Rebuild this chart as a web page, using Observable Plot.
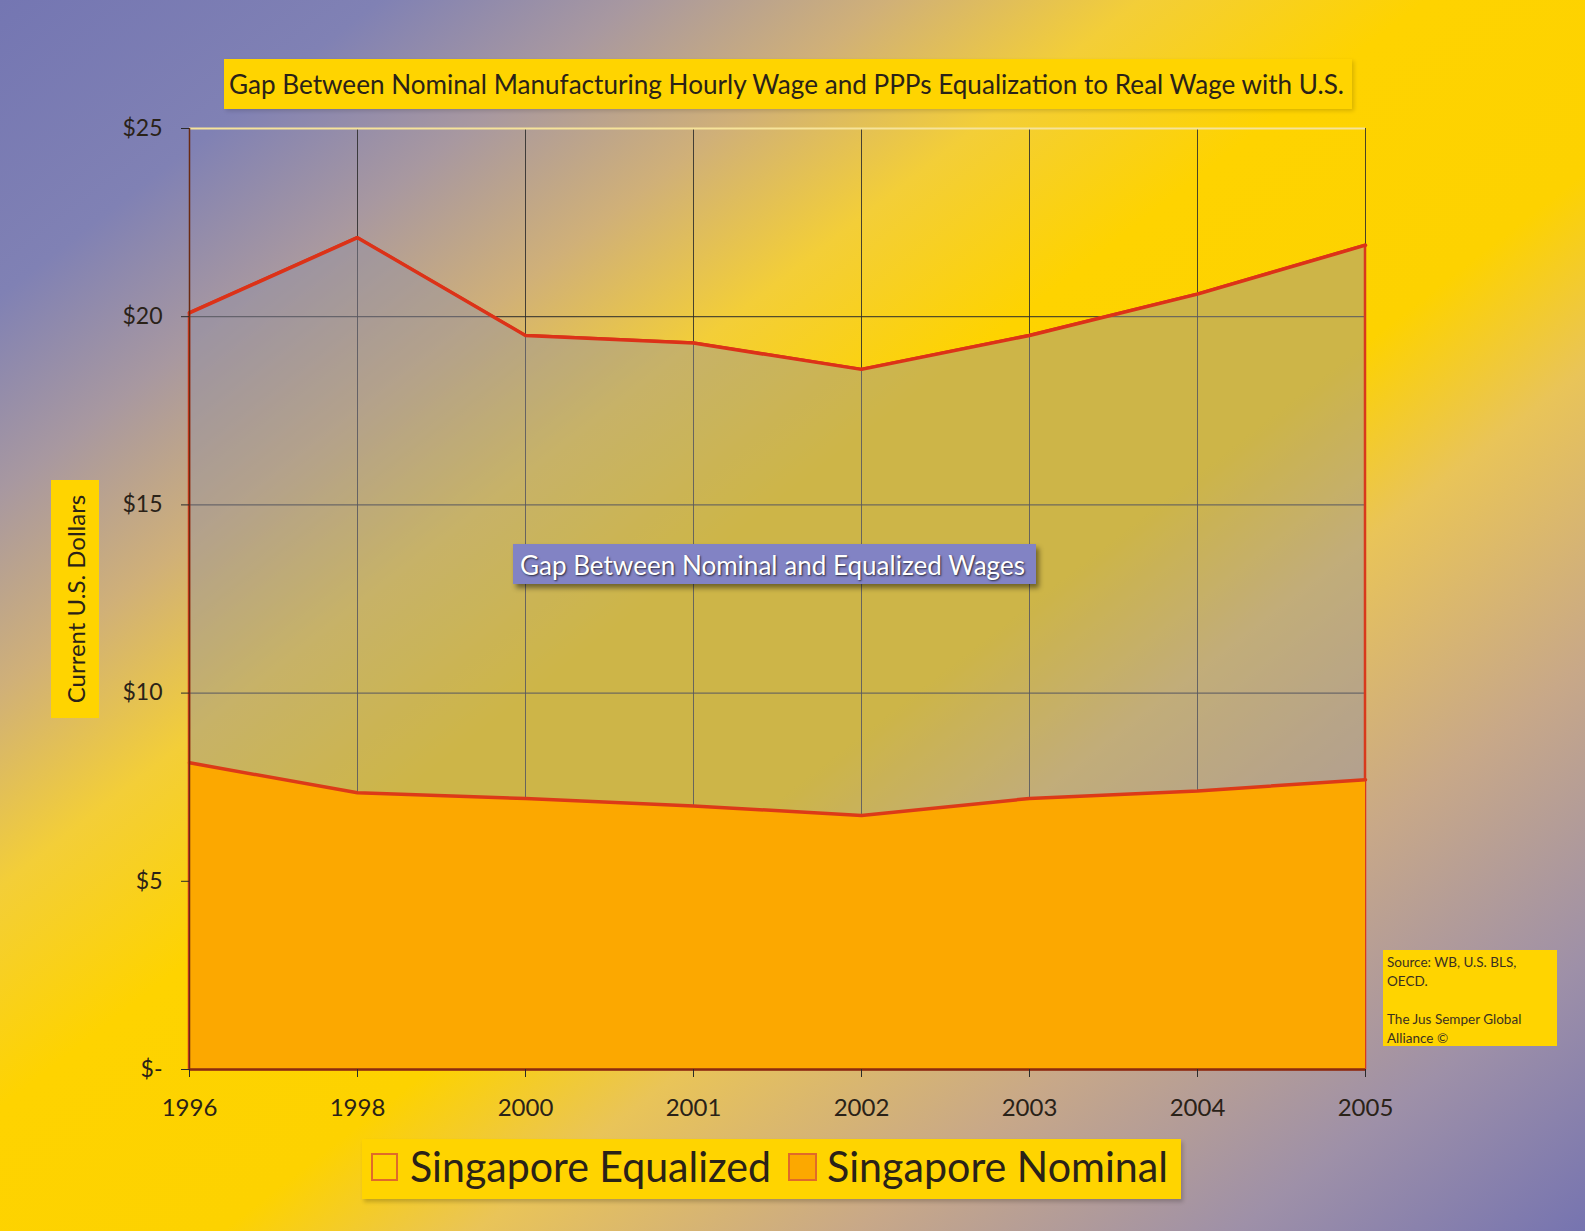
<!DOCTYPE html>
<html>
<head>
<meta charset="utf-8">
<script src="https://cdn.jsdelivr.net/npm/d3@7"></script>
<script src="https://cdn.jsdelivr.net/npm/@observablehq/plot@0.6"></script>
<style>
  html, body { margin: 0; padding: 0; }
  #page {
    position: relative; width: 1585px; height: 1231px; overflow: hidden;
    background: linear-gradient(to bottom right, #7476b2 0%, #8081b4 12%, #a898a0 20%, #d0b078 28%, #f3ce38 36%, #fed300 45%, #fdd200 57%, #e9c458 65%, #c8a888 77%, #9e90a8 89%, #7674b0 100%);
    font-family: Lato, "Open Sans", sans-serif;
  }
  .box { position: absolute; background: #ffd400; box-sizing: border-box; }
  .fit { display: inline-block; white-space: nowrap; transform-origin: 0 50%; }
  #plot { position: absolute; left: 0; top: 0; }
</style>
</head>
<body>
<div id="page">
  <div id="plot"></div>
  <div class="box" id="title" style="left:224px;top:59px;width:1128px;height:50px;box-shadow:2px 2px 4px rgba(0,0,0,0.15);">
    <span class="fit" data-w="1115" style="position:absolute;left:5px;top:8px;font-size:27px;color:#2a2218;">Gap Between Nominal Manufacturing Hourly Wage and PPPs Equalization to Real Wage with U.S.</span>
  </div>
  <div class="box" id="ylab" style="left:51px;top:480px;width:48px;height:238px;">
    <span style="position:absolute;left:24px;top:119px;transform:translate(-50%,-50%) rotate(-90deg);white-space:nowrap;font-size:24px;color:#2a2218;">Current U.S. Dollars</span>
  </div>
  <div id="anno" style="position:absolute;left:513px;top:544px;width:523px;height:40px;background:#8283c4;box-shadow:3px 4px 5px rgba(0,0,0,0.45);">
    <span class="fit" data-w="505" style="position:absolute;left:7px;top:5px;font-size:26px;color:#fff;text-shadow:1px 1px 2px rgba(0,0,0,0.7);">Gap Between Nominal and Equalized Wages</span>
  </div>
  <div class="box" id="source" style="left:1383px;top:950px;width:174px;height:96px;padding:3px 4px;font-size:13.5px;line-height:19px;color:#3a3020;">
    Source: WB, U.S. BLS,<br>OECD.<br><br>The Jus Semper Global<br>Alliance ©
  </div>
  <div class="box" id="legend" style="left:362px;top:1139px;width:819px;height:60px;box-shadow:2px 3px 4px rgba(0,0,0,0.2);">
    <div style="position:absolute;left:9px;top:14px;width:27px;height:28px;border:2px solid #e06a2a;box-sizing:border-box;"></div>
    <span class="fit" data-w="361" style="position:absolute;left:48px;top:2px;font-size:42px;color:#2a2218;">Singapore Equalized</span>
    <div style="position:absolute;left:426px;top:14px;width:29px;height:28px;background:#fca800;border:2px solid #e06a2a;box-sizing:border-box;"></div>
    <span class="fit" data-w="341" style="position:absolute;left:465px;top:2px;font-size:42px;color:#2a2218;">Singapore Nominal</span>
  </div>
</div>
<script>
const years = ["1996", "1998", "2000", "2001", "2002", "2003", "2004", "2005"];
const equalized = [20.1, 22.1, 19.5, 19.3, 18.6, 19.5, 20.6, 21.9];
const nominal = [8.15, 7.35, 7.2, 7.0, 6.75, 7.2, 7.4, 7.7];
const yTicks = [0, 5, 10, 15, 20, 25];

const rows = years.map((y, i) => ({year: y, equalized: equalized[i], nominal: nominal[i]}));

const chart = Plot.plot({
  width: 1585,
  height: 1231,
  marginLeft: 189,
  marginRight: 220,
  marginTop: 128,
  marginBottom: 162,
  style: {background: "transparent", fontFamily: "Lato, 'Open Sans', sans-serif", color: "#2a2218", overflow: "visible"},
  x: {type: "point", domain: years, padding: 0},
  y: {domain: [0, 25]},
  marks: [
    Plot.gridX(years, {stroke: "#2a2a2a", strokeOpacity: 0.85, strokeWidth: 1}),
    Plot.gridY([5, 10, 15, 20], {stroke: "#2a2a2a", strokeOpacity: 0.8, strokeWidth: 1.2}),
    Plot.ruleY([25], {stroke: "#f6e39a", strokeWidth: 2}),
    Plot.areaY(rows, {x: "year", y: "equalized", fill: "#9090a4", fillOpacity: 0.44, stroke: "#d83a1c", strokeWidth: 2.5}),
    Plot.areaY(rows, {x: "year", y: "nominal", fill: "#fca800", fillOpacity: 1}),
    Plot.lineY(rows, {x: "year", y: "nominal", stroke: "#dc3a18", strokeWidth: 3.5}),
    Plot.lineY(rows, {x: "year", y: "equalized", stroke: "#dc3218", strokeWidth: 3.5}),
    Plot.ruleX([years[0]], {y1: 0, y2: 25, stroke: "#6a2a12", strokeWidth: 1.5}),
    Plot.ruleY([0], {stroke: "#8a2a10", strokeWidth: 2.5}),
    Plot.axisY(yTicks, {tickSize: 8, tickPadding: 19, fontSize: 23, label: null, stroke: "#2a2a2a",
      tickFormat: d => d === 0 ? "$-" : "$" + d}),
    Plot.axisX(years, {tickSize: 8, tickPadding: 21, fontSize: 24, label: null, stroke: "#2a2a2a"})
  ]
});
document.getElementById("plot").appendChild(chart);

document.querySelectorAll(".fit").forEach(el => {
  const target = +el.dataset.w;
  const w = el.getBoundingClientRect().width;
  if (w > 0) el.style.transform = `scaleX(${target / w})`;
});
</script>
</body>
</html>
